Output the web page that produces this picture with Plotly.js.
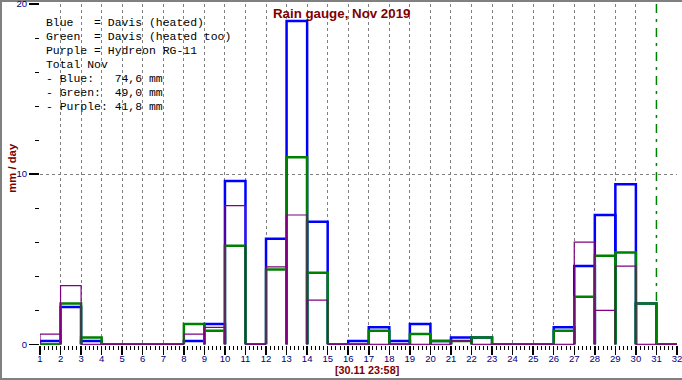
<!DOCTYPE html>
<html><head><meta charset="utf-8">
<script src="https://cdn.plot.ly/plotly-3.0.1.min.js"></script>
<style>
html,body{margin:0;padding:0;background:#fff;}
#wrap{position:relative;width:682px;height:380px;overflow:hidden;background:#fff;}
#frame{position:absolute;left:0;top:0;width:682px;height:380px;box-sizing:border-box;border-left:2px solid #808080;border-top:2px solid #808080;border-bottom:2px solid #808080;}
#chart{position:absolute;left:0;top:0;width:682px;height:380px;}
</style></head><body>
<div id="wrap"><div id="frame"></div><div id="chart"></div></div>
<script>
// ---- data (mm per day, November 2019) ----
const days = [1,2,3,4,5,6,7,8,9,10,11,12,13,14,15,16,17,18,19,20,21,22,23,24,25,26,27,28,29,30,31];
const blueDavis   = [0.2,2.2,0.2,0,0,0,0,0.2,1.2,9.6,0,6.2,19.0,7.2,0,0.2,1.0,0.2,1.2,0.2,0.4,0.4,0,0,0,1.0,4.6,7.6,9.4,2.4,0];
const greenDavis  = [0,2.4,0.4,0,0,0,0,1.2,0.8,5.8,0,4.4,11.0,4.2,0,0,0.8,0,0.6,0.2,0.2,0.4,0,0,0,0.8,2.8,5.2,5.4,2.4,0];
const purpleRG11  = [0.6,3.45,0,0,0,0,0,0.6,1.0,8.15,0,4.55,7.6,2.6,0,0,0,0,0,0,0.2,0,0,0,0,0,6.0,2.0,4.6,0,0];
const xTickVals   = [1,2,3,4,5,6,7,8,9,10,11,12,13,14,15,16,17,18,19,20,21,22,23,24,25,26,27,28,29,30,31,32];
const xTickLabels = ['1','2','3','4','5','6','7','8','9','10','11','12','13','14','15','16','17','18','19','20','21','22','23','24','25','26','27','28','29','30','31','32'];
const xGridVals   = [2,3,4,5,6,7,8,9,10,11,12,13,14,15,16,17,18,19,20,21,22,23,24,25,26,27,28,29,30];
const yTickVals   = [0,10,20];
const yTickLabels = ['0','10','20'];
const yGridVals   = [10];
const nowDay = 31;
const yMax = 20;
const legendLines = [
  'Blue   = Davis (heated)',
  'Green  = Davis (heated too)',
  'Purple = Hydreon RG-11',
  'Total Nov',
  '- Blue:   74,6 mm',
  '- Green:  49,0 mm',
  '- Purple: 41,8 mm'
];
const chartTitle = 'Rain gauge, Nov 2019';
const yTitle = 'mm / day';
const xTitle = '[30.11 23:58]';

// ---- build open-bottom rectangles for each day ----
function rects(vals){
  const x=[], y=[];
  days.forEach((d,i)=>{ x.push(d,d,d+1,d+1,null); y.push(0,vals[i],vals[i],0,null); });
  return {x,y};
}
function series(vals,color,width){
  const r = rects(vals);
  return {type:'scatter', mode:'lines', x:r.x, y:r.y, connectgaps:false,
    line:{color:color, width:width}, hoverinfo:'skip', showlegend:false};
}
const traces = [
  // anchors the horizontal-grid overlay axis
  {type:'scatter', mode:'lines', x:[null], y:[null], xaxis:'x', yaxis:'y2', hoverinfo:'skip', showlegend:false},
  // "now" marker, on the vertical-grid overlay axis (same range as x)
  {type:'scatter', mode:'lines', x:[nowDay,nowDay], y:[yMax,0], xaxis:'x2', yaxis:'y',
   line:{color:'#008000', width:1.5, dash:'9px,6px,3px,6px'}, hoverinfo:'skip', showlegend:false},
  series(blueDavis,'#0000ff',2.5),
  series(greenDavis,'#008000',2.5),
  series(purpleRG11,'#800080',1.2)
];

// ---- geometry helpers (pixels -> paper) ----
const M = {l:40, r:5, t:4, b:35};
const W = 682, H = 380;
const pw = W - M.l - M.r, ph = H - M.t - M.b;
const px = p => (p - M.l)/pw;
const py = p => (H - M.b - p)/ph;

const tickFont = {family:'Liberation Sans Narrow, Arial Narrow, Liberation Sans, Arial, sans-serif', size:9.5, color:'#000080'};
const redBold = {family:'Liberation Sans, Arial, sans-serif', color:'#800000', weight:'bold'};

const annotations = legendLines.map((t,i)=>({
  text: t.replace(/ /g,'\u00A0'), xref:'paper', yref:'paper',
  x: px(43.5), y: py(22.7 + 14*i), xanchor:'left', yanchor:'middle',
  showarrow:false, align:'left',
  font:{family:'Liberation Mono, Courier New, monospace', size:11.45, color:'#000'}
}));
annotations.push({text:yTitle, xref:'paper', yref:'paper', x:px(12), y:py(167.8),
  xanchor:'center', yanchor:'middle', textangle:-90, showarrow:false,
  font:Object.assign({size:11.3}, redBold)});
annotations.push({text:xTitle, xref:'paper', yref:'paper', x:px(366.5), y:py(369.5),
  xanchor:'center', yanchor:'middle', showarrow:false,
  font:Object.assign({size:10.8}, redBold)});

const layout = {
  width:W, height:H, margin:M,
  paper_bgcolor:'rgba(0,0,0,0)', plot_bgcolor:'rgba(0,0,0,0)',
  title:{text:chartTitle, xref:'container', yref:'container', x:341.7/W, y:1-13.5/H,
    xanchor:'center', yanchor:'middle', font:Object.assign({size:13.3}, redBold)},
  showlegend:false,
  xaxis:{range:[1,32], tickmode:'array', tickvals:xTickVals, ticktext:xTickLabels,
    ticks:'outside', ticklen:8.5, tickwidth:1.5, tickcolor:'#000', tickfont:tickFont,
    ticklabelstandoff:-4, ticklabeloverflow:'allow',
    showgrid:false, zeroline:false, showline:false, fixedrange:true,
    minor:{tickmode:'linear', tick0:1, dtick:0.2, ticks:'outside', ticklen:4, tickwidth:1, tickcolor:'#000', showgrid:false}},
  yaxis:{range:[-0.04,yMax], tickmode:'array', tickvals:yTickVals, ticktext:yTickLabels,
    ticks:'outside', ticklen:10, tickwidth:1.5, tickcolor:'#000', tickfont:tickFont,
    ticklabeloverflow:'allow',
    showgrid:false, zeroline:false, showline:false, fixedrange:true,
    minor:{tickmode:'linear', tick0:0, dtick:2, ticks:'outside', ticklen:4, tickwidth:1, tickcolor:'#000', showgrid:false}},
  xaxis2:{overlaying:'x', anchor:'y', range:[1,32], tickmode:'array', tickvals:xGridVals,
    showticklabels:false, ticks:'', showgrid:true, gridcolor:'#808080', gridwidth:1, griddash:'3px,3px',
    zeroline:false, showline:false, fixedrange:true},
  yaxis2:{overlaying:'y', anchor:'x', range:[-0.04,yMax], tickmode:'array', tickvals:yGridVals,
    showticklabels:false, ticks:'', showgrid:true, gridcolor:'#808080', gridwidth:1, griddash:'3px,3px',
    zeroline:false, showline:false, fixedrange:true},
  annotations:annotations
};
Plotly.newPlot('chart', traces, layout, {staticPlot:true, displayModeBar:false});
</script>
</body></html>
